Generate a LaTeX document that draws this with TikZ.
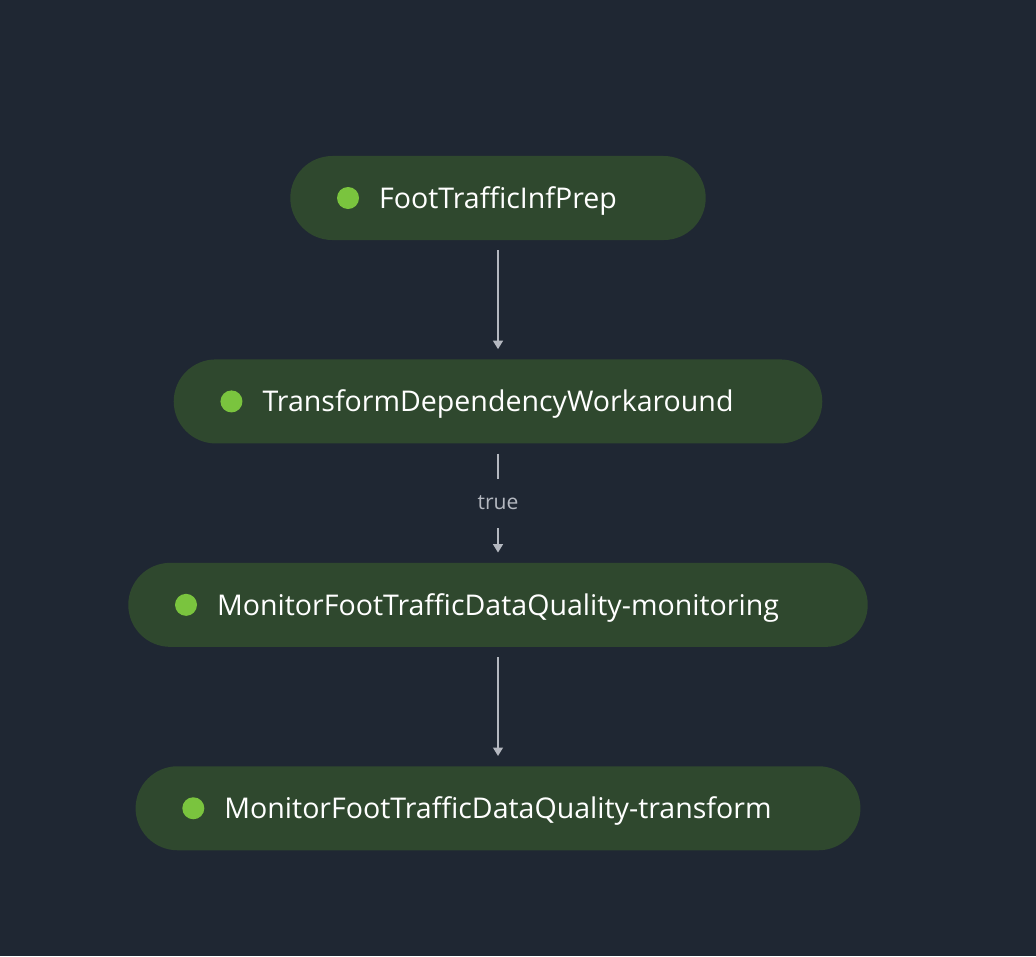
\documentclass[tikz,border=0pt]{standalone}
\usepackage{fontspec}
\setmainfont{Open Sans}
\usetikzlibrary{positioning,arrows.meta}

\definecolor{bgnavy}{HTML}{1F2733}
\definecolor{stepgreen}{HTML}{2F482E}
\definecolor{dotgreen}{HTML}{7AC43E}
\definecolor{linegray}{HTML}{B4B8C0}

\tikzset{
	stepnode/.style={rounded corners=1.05cm, fill=stepgreen, text=white,
		minimum height=2.1cm, inner xsep=2.22cm, text height=0.51cm, text depth=0pt,
		font=\fontsize{20.3}{23}\selectfont},
	okdot/.style={circle, fill=dotgreen, minimum size=0.55cm, inner sep=0pt},
	flow/.style={draw=linegray, line width=1.2pt, -{Triangle[width=7pt,length=6pt]},
		shorten <=0.25cm, shorten >=0.25cm},
	flowlabel/.style={fill=bgnavy, text=linegray, minimum height=1.22cm, inner xsep=2pt,
		font=\fontsize{15}{17}\selectfont},
}

\begin{document}
\begin{tikzpicture}[x=0.025cm,y=-0.025cm]
	
	\fill[bgnavy] (0,0) rectangle (1036,956);
	\useasboundingbox (0,0) rectangle (1036,956);
	
	\node[stepnode] (prep)    at (498,198)           {FootTrafficInfPrep};
	\node[stepnode] (xform)   [below=2.97cm of prep]    {TransformDependencyWorkaround};
	\node[stepnode] (monitor) [below=2.97cm of xform]   {MonitorFootTrafficDataQuality-monitoring};
	\node[stepnode] (trans)   [below=2.97cm of monitor] {MonitorFootTrafficDataQuality-transform};
	
	\node[okdot] (prep-dot)    at ([xshift=1.45cm]prep.west)    {};
	\node[okdot] (xform-dot)   at ([xshift=1.45cm]xform.west)   {};
	\node[okdot] (monitor-dot) at ([xshift=1.45cm]monitor.west) {};
	\node[okdot] (trans-dot)   at ([xshift=1.45cm]trans.west)   {};
	
	\draw[flow] (prep) -- (xform);
	\draw[flow] (xform) -- node[flowlabel] {true} (monitor);
	\draw[flow] (monitor) -- (trans);
	
\end{tikzpicture}
\end{document}
